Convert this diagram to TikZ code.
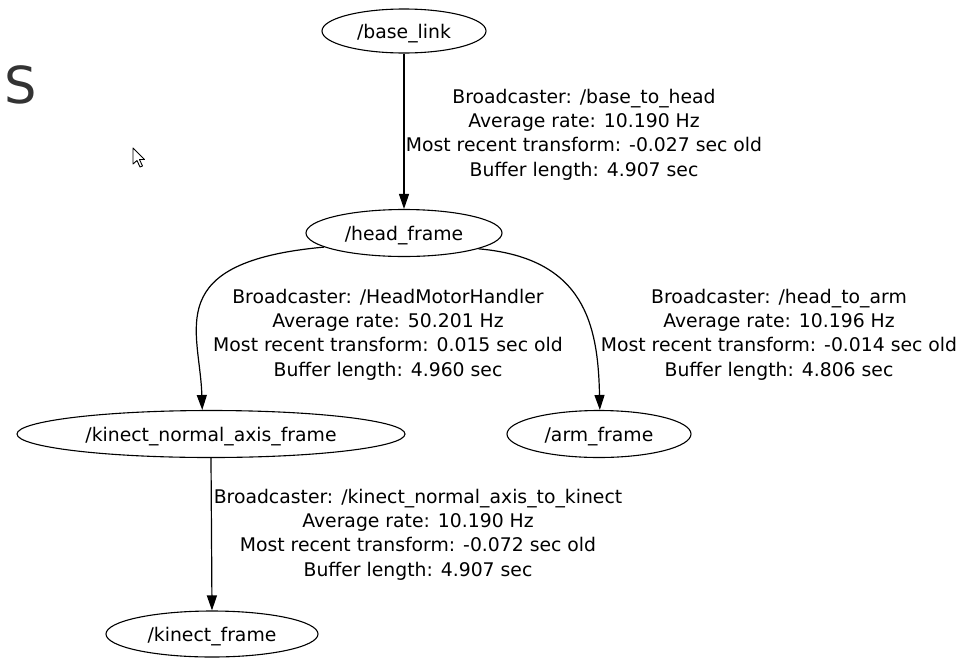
\documentclass[tikz,border=0pt]{standalone}
\usepackage{fontspec}
\setmainfont{DejaVu Sans}
\usetikzlibrary{arrows.meta,shapes.geometric}
\definecolor{titlegray}{HTML}{333333}
\begin{document}
\begin{tikzpicture}[x=1pt,y=-1pt,
  frame/.style={draw=black, line width=1.1pt, ellipse, inner sep=0pt,
    text depth=0pt, font=\fontsize{18.8}{24.4}\selectfont},
  edgelabel/.style={align=center, inner sep=0pt,
    font=\fontsize{18.8}{24.4}\selectfont},
  tfedge/.style={draw=black, line width=1.2pt,
    -{Triangle[length=15pt,width=10pt]}}
]
\useasboundingbox[fill=white] (0,0) rectangle (960,659);

% heading letter and mouse pointer
\node[anchor=base west, inner sep=0pt, text=titlegray,
  font=\fontsize{51}{60}\selectfont] (title) at (4,103) {S};
\draw[fill=white, draw=black, line width=0.9pt, line join=round]
  (133,148) -- (133,164) -- (137,160.5) -- (140,167) -- (142.5,166)
  -- (139.5,159.5) -- (144.5,159.5) -- cycle;

% frames
\node[frame, minimum width=164pt, minimum height=44pt] (base) at (404,31) {/base\_link};
\node[frame, minimum width=196pt, minimum height=47pt] (head) at (404,233) {/head\_frame};
\node[frame, minimum width=388pt, minimum height=47pt] (kna) at (211,434) {/kinect\_normal\_axis\_frame};
\node[frame, minimum width=184pt, minimum height=47pt] (arm) at (599,434) {/arm\_frame};
\node[frame, minimum width=212pt, minimum height=46pt] (kinect) at (212,634) {/kinect\_frame};

% transforms
\draw[tfedge] (base.south) -- (head.north);
\draw[tfedge] (head.190) .. controls (160,262) and (200,330) .. (kna.110);
\draw[tfedge] (head.-12) .. controls (585,258) and (598,325) .. (arm.88);
\draw[tfedge] (kna.south) -- (kinect.north);

% transform labels
\node[edgelabel] (lbl1) at (584,134.5) {Broadcaster: /base\_to\_head\\Average rate: 10.190 Hz\\Most recent transform: -0.027 sec old\\Buffer length: 4.907 sec};
\node[edgelabel] (lbl2) at (388,334.5) {Broadcaster: /HeadMotorHandler\\Average rate: 50.201 Hz\\Most recent transform: 0.015 sec old\\Buffer length: 4.960 sec};
\node[edgelabel] (lbl3) at (779,334.5) {Broadcaster: /head\_to\_arm\\Average rate: 10.196 Hz\\Most recent transform: -0.014 sec old\\Buffer length: 4.806 sec};
\node[edgelabel] (lbl4) at (418,534.5) {Broadcaster: /kinect\_normal\_axis\_to\_kinect\\Average rate: 10.190 Hz\\Most recent transform: -0.072 sec old\\Buffer length: 4.907 sec};
\end{tikzpicture}
\end{document}
